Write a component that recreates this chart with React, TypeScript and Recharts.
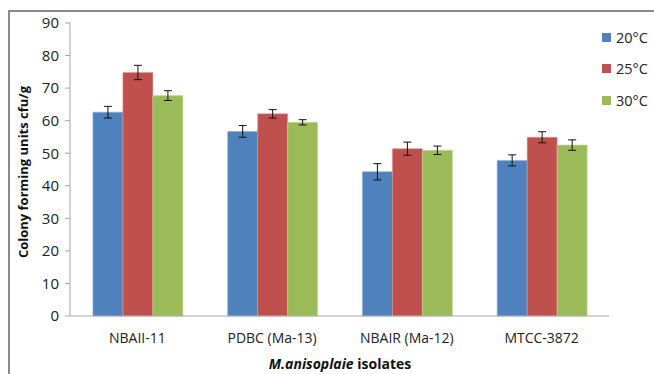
import React from 'react';
import { BarChart, Bar, XAxis, YAxis, ErrorBar, Legend } from 'recharts';

const categories = ['NBAII-11', 'PDBC (Ma-13)', 'NBAIR (Ma-12)', 'MTCC-3872'];
const t20 = [62.6, 56.7, 44.3, 47.8];
const e20 = [1.8, 1.8, 2.5, 1.7];
const t25 = [74.8, 62.1, 51.4, 54.9];
const e25 = [2.2, 1.3, 2.0, 1.7];
const t30 = [67.7, 59.5, 50.9, 52.5];
const e30 = [1.5, 0.8, 1.3, 1.6];
const yTicks = [0, 10, 20, 30, 40, 50, 60, 70, 80, 90];
const seriesNames = ['20°C', '25°C', '30°C'];
const colors = ['#4F81BD', '#C0504D', '#9BBB59'];

const data = categories.map((c, i) => ({
  name: c,
  t20: t20[i], e20: e20[i],
  t25: t25[i], e25: e25[i],
  t30: t30[i], e30: e30[i],
}));

const FONT = '"Open Sans", Lato, sans-serif';

const LegendContent = () => (
  <div style={{ fontFamily: FONT, fontSize: 14.5, color: '#222' }}>
    {seriesNames.map((n, i) => (
      <div key={n} style={{ display: 'flex', alignItems: 'center', height: 20, marginBottom: i < 2 ? 11.5 : 0 }}>
        <span style={{ display: 'inline-block', width: 9, height: 9, background: colors[i], marginRight: 5 }} />
        <span>{n}</span>
      </div>
    ))}
  </div>
);

export default function App() {
  return (
    <div style={{ position: 'fixed', left: 0, top: 0, width: 654, height: 374, background: '#fff', overflow: 'hidden' }}>
      <div style={{ position: 'absolute', left: 8, top: 9.5, width: 700, height: 400, borderTop: '2px solid #8a8a8a', borderLeft: '2px solid #8a8a8a' }} />
      <BarChart
        width={654}
        height={374}
        data={data}
        margin={{ top: 23, right: 45, bottom: 0, left: 0 }}
        barCategoryGap="17%"
        barGap={0}
        style={{ position: 'absolute', left: 0, top: 0 }}
      >
        <XAxis
          dataKey="name"
          height={58}
          tickLine={false}
          tickSize={0}
          tickMargin={17}
          axisLine={{ stroke: '#a6a6a6', strokeWidth: 1 }}
          tick={{ fontFamily: FONT, fontSize: 14, fill: '#222' }}
          label={{
            content: () => (
              <text x={340} y={369} textAnchor="middle" fontFamily={FONT} fontSize={14} fontWeight="bold" fill="#111">
                <tspan fontStyle="italic">M.anisoplaie</tspan>
                <tspan> isolates</tspan>
              </text>
            ),
          }}
        />
        <YAxis
          width={70}
          domain={[0, 90]}
          ticks={yTicks}
          interval={0}
          tickSize={5}
          tickMargin={6}
          axisLine={{ stroke: '#a6a6a6', strokeWidth: 1 }}
          tickLine={{ stroke: '#a6a6a6' }}
          tick={{ fontFamily: FONT, fontSize: 15, fill: '#222' }}
          label={{
            content: () => (
              <text
                x={28}
                y={172}
                textAnchor="middle"
                transform="rotate(-90 28 172)"
                fontFamily={FONT}
                fontSize={13}
                fontWeight="bold"
                fill="#111"
              >
                Colony forming units cfu/g
              </text>
            ),
          }}
        />
        <Legend
          verticalAlign="middle"
          align="center"
          layout="vertical"
          content={LegendContent}
          wrapperStyle={{ position: 'absolute', left: 602, top: 27, width: 60, height: 90 }}
        />
        <Bar dataKey="t20" name={seriesNames[0]} fill={colors[0]} stroke="#8fb0d8" strokeWidth={0.6} isAnimationActive={false}>
          <ErrorBar dataKey="e20" width={4} stroke="#111" strokeWidth={1} isAnimationActive={false} />
        </Bar>
        <Bar dataKey="t25" name={seriesNames[1]} fill={colors[1]} stroke="#d99a98" strokeWidth={0.6} isAnimationActive={false}>
          <ErrorBar dataKey="e25" width={4} stroke="#111" strokeWidth={1} isAnimationActive={false} />
        </Bar>
        <Bar dataKey="t30" name={seriesNames[2]} fill={colors[2]} stroke="#c4d89c" strokeWidth={0.6} isAnimationActive={false}>
          <ErrorBar dataKey="e30" width={4} stroke="#111" strokeWidth={1} isAnimationActive={false} />
        </Bar>
      </BarChart>
    </div>
  );
}
